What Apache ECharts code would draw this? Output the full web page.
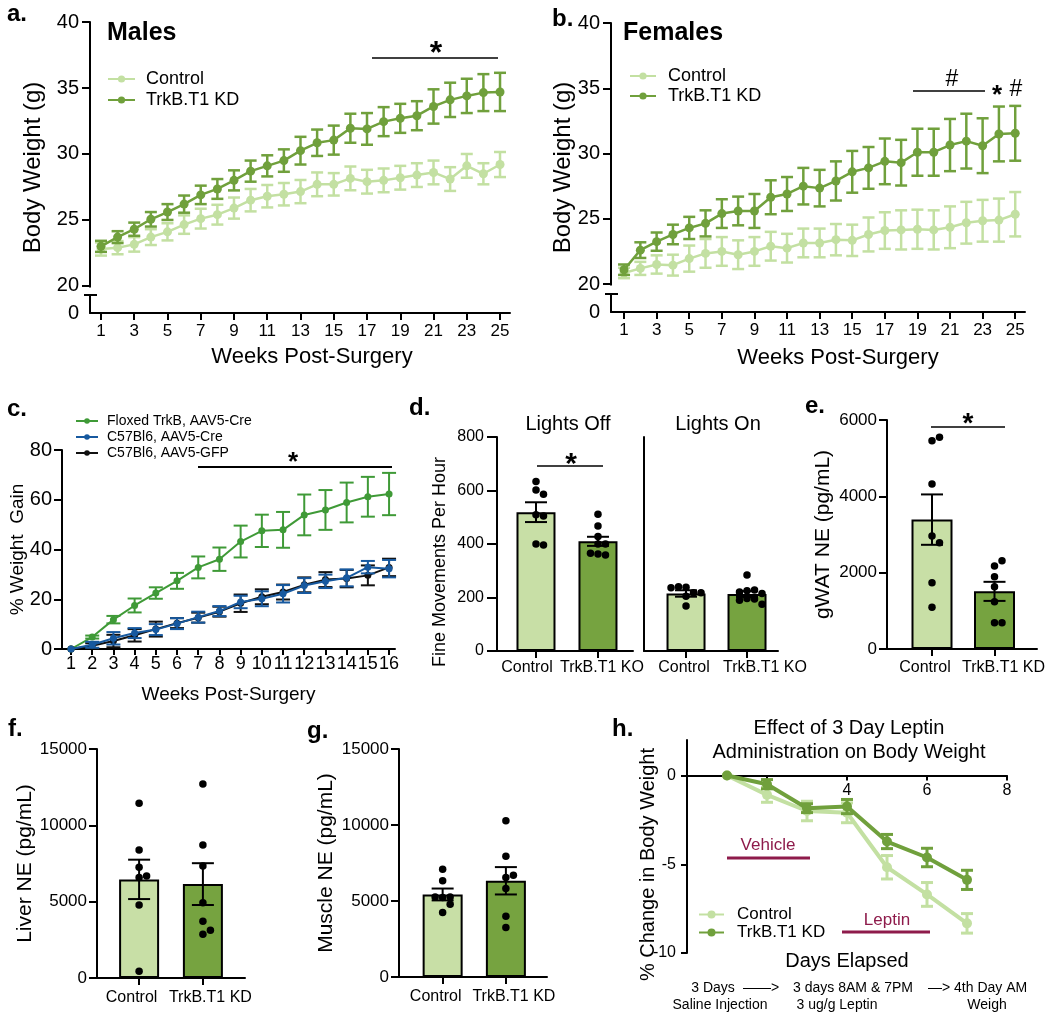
<!DOCTYPE html>
<html><head><meta charset="utf-8">
<script src="https://cdn.jsdelivr.net/npm/echarts@6/dist/echarts.min.js"></script>
<style>html,body{margin:0;padding:0;background:#fff}#c{width:1050px;height:1018px}</style>
</head><body><div id="c"></div>
<script>
// ---------------- DATA ----------------
const weeksAB = [1,2,3,4,5,6,7,8,9,10,11,12,13,14,15,16,17,18,19,20,21,22,23,24,25];
const weekTicksAB = [1,3,5,7,9,11,13,15,17,19,21,23,25];
const malesControl = [22.8,22.9,23.15,23.7,24.1,24.65,25.1,25.4,25.9,26.5,26.8,26.95,27.15,27.7,27.7,28.15,27.9,28.0,28.2,28.4,28.6,28.1,29.1,28.5,29.2];
const malesControlErr = [0.5,0.5,0.55,0.6,0.65,0.7,0.75,0.75,0.8,0.85,0.85,0.85,0.88,0.9,0.85,0.9,0.9,0.9,0.9,0.9,0.9,0.9,0.9,0.8,0.95];
const malesKD = [23.0,23.7,24.3,25.05,25.6,26.2,26.9,27.35,28.0,28.7,29.1,29.5,30.25,30.85,31.05,31.95,31.9,32.45,32.7,32.9,33.6,34.1,34.4,34.65,34.7];
const malesKDErr = [0.42,0.45,0.5,0.55,0.6,0.65,0.7,0.75,0.76,0.8,0.8,0.85,1.05,1.0,1.1,1.1,1.2,1.1,1.1,1.1,1.3,1.3,1.3,1.4,1.45];
const femalesControl = [20.85,21.2,21.5,21.45,21.95,22.35,22.5,22.25,22.5,22.9,22.75,23.15,23.15,23.4,23.35,23.8,24.1,24.15,24.2,24.15,24.35,24.7,24.85,24.9,25.35];
const femalesControlErr = [0.4,0.5,0.7,0.8,1.0,1.1,1.1,1.1,1.1,1.1,1.1,1.1,1.1,1.2,1.2,1.3,1.4,1.5,1.5,1.5,1.6,1.6,1.6,1.65,1.7];
const femalesKD = [21.1,22.6,23.25,23.8,24.3,24.65,25.4,25.6,25.6,26.65,26.9,27.5,27.35,27.9,28.6,28.9,29.4,29.3,30.1,30.1,30.65,30.95,30.6,31.5,31.55];
const femalesKDErr = [0.4,0.6,0.7,0.75,0.85,1.0,1.1,1.1,1.3,1.3,1.3,1.4,1.4,1.5,1.6,1.6,1.75,1.75,1.8,1.8,2.0,2.1,2.1,2.1,2.1];

const weeksC = [1,2,3,4,5,6,7,8,9,10,11,12,13,14,15,16];
const floxedCre = [0,4.8,11.8,17.5,22.5,27.4,32.8,36.1,43.2,47.5,47.9,53.9,55.9,58.9,61.2,62.3];
const floxedCreErr = [0,0.6,1.5,2.8,2.3,3.2,4.4,4.7,6.4,6.5,7.2,8.2,8.0,8.0,8.0,8.5];
const c57Cre = [0,1.7,4.3,6.4,7.8,10.2,12.8,15.25,18.9,20.2,22.2,25.5,27.2,28.6,32.9,32.3];
const c57CreErr = [0,1.2,2.5,2,2.2,2.2,2.2,2,2.5,3,3.5,3,2.7,3.4,2.5,3.5];
const c57Gfp = [0,1.3,3.2,5.5,8.0,10.4,12.6,15.0,18.4,21.0,22.9,25.8,27.9,28.3,29.6,32.8];
const c57GfpErr = [0,1,2.5,2.5,3,2,2,2,3.5,3,3,3,3,3.5,4,3.5];

const groupsKD = ['Control','TrkB.T1 KD'];
const groupsKO = ['Control','TrkB.T1 KO'];
const lightsOffMeans = [519,410];
const lightsOffSem = [37,17];
const lightsOffPoints = [[634,602,586,509,505,400,396],[511,467,428,400,400,363,359,365]];
const lightsOnMeans = [215,213];
const lightsOnSem = [12,11];
const lightsOnPoints = [[238,218,240,218,236,168,205],[284,225,228,221,215,196,194,190,175]];
const gwatMeans = [3390,1510];
const gwatSem = [660,250];
const gwatPoints = [[5459,5546,4323,2961,2786,1738,1092],[2175,2314,1895,1633,1240,690,690]];
const liverMeans = [6460,6150];
const liverSem = [1290,1370];
const liverPoints = [[11452,8387,7248,6591,6679,4774,438],[12700,8715,7335,4927,3723,2868,3131]];
const muscleMeans = [5430,6330];
const muscleSem = [390,900];
const musclePoints = [[7094,6326,5227,5271,5271,4788,4239],[10279,7951,6545,6699,5820,3997,3250]];

const leptinDays = [1,2,3,4,5,6,7];
const leptinControl = [0,-1.09,-2.0,-2.1,-5.17,-6.7,-8.33];
const leptinControlErr = [0,0.42,0.55,0.56,0.66,0.67,0.55];
const leptinKD = [0,-0.49,-1.84,-1.75,-3.72,-4.62,-5.88];
const leptinKDErr = [0,0.26,0.25,0.4,0.4,0.52,0.54];

// ---------------- STYLE ----------------
const FONT = "'Liberation Sans', Arial, Helvetica, sans-serif";
const LIGHT = '#c3e0a2', DARK = '#70a03c';
const BAR_COLORS = ['#c8dfa6', '#76a340'];
const C_GREEN = '#3f9a37', C_BLUE = '#17599f', C_BLACK = '#111111';
const MAROON = '#8e1b4b';

function axis(gi, c, pos) {
  return {
    type: 'value', gridIndex: gi, min: c.min, max: c.max, show: c.show !== false, position: pos,
    axisLine: {show: !c.noLine, onZero: false, lineStyle: {color: '#000', width: 2}},
    axisTick: {show: !!c.ticks, length: c.tickLen || 6, customValues: c.ticks, lineStyle: {color: '#000', width: 2}},
    axisLabel: {show: !!c.labels, customValues: c.labels, formatter: c.fmt || (v => String(v)),
      showMinLabel: true, showMaxLabel: true, hideOverlap: false, padding: c.labelPad || 0,
      fontSize: c.fs, fontFamily: FONT, color: '#000', margin: c.margin},
    splitLine: {show: false},
    name: c.name, nameLocation: 'middle', nameGap: c.nameGap, nameMoveOverlap: false,
    nameTextStyle: {fontSize: c.nameFs, fontFamily: FONT, color: '#000', padding: c.namePad || 0}
  };
}
const xAx = (gi, c) => axis(gi, c, 'bottom');
const yAx = (gi, c) => axis(gi, c, 'left');
const catFmt = names => v => names[Math.round(v)];

function lineS(name, gi, xs, ys, color, lw, sym, z) {
  return {type: 'line', name, xAxisIndex: gi, yAxisIndex: gi, data: xs.map((x, i) => [x, ys[i]]),
    symbol: 'circle', symbolSize: sym, showSymbol: true, lineStyle: {color, width: lw}, itemStyle: {color},
    z, emphasis: {disabled: true}, animation: false};
}
function errS(gi, xs, ys, es, color, lw, cap, z) {
  return {type: 'custom', xAxisIndex: gi, yAxisIndex: gi, z, silent: true,
    data: xs.map((x, i) => [x, ys[i], es[i]]), encode: {x: 0, y: 1},
    renderItem(params, api) {
      const x = api.value(0), y = api.value(1), e = api.value(2);
      if (!e) return null;
      const p1 = api.coord([x, y + e]), p2 = api.coord([x, y - e]), h = cap / 2;
      const st = {stroke: color, lineWidth: lw};
      return {type: 'group', children: [
        {type: 'line', shape: {x1: p1[0], y1: p1[1], x2: p2[0], y2: p2[1]}, style: st},
        {type: 'line', shape: {x1: p1[0] - h, y1: p1[1], x2: p1[0] + h, y2: p1[1]}, style: st},
        {type: 'line', shape: {x1: p2[0] - h, y1: p2[1], x2: p2[0] + h, y2: p2[1]}, style: st}
      ]};
    }};
}
function barS(gi, means, bw) {
  return {type: 'bar', xAxisIndex: gi, yAxisIndex: gi, barWidth: bw, z: 2, silent: true,
    data: means.map((m, i) => ({value: [i, m], itemStyle: {color: BAR_COLORS[i]}})),
    itemStyle: {borderColor: '#000', borderWidth: 2}};
}
function swarm(ys, d) {
  const placed = [], out = [];
  for (let i = 0; i < ys.length; i++) {
    const y = ys[i]; let chosen = 0;
    for (let n = 0; n < 30; n++) {
      const k = n === 0 ? 0 : (n % 2 === 1 ? Math.ceil(n / 2) : -Math.ceil(n / 2));
      const x = k * d;
      if (placed.every(p => (p[0] - x) ** 2 + (p[1] - y) ** 2 >= d * d * 0.95)) { chosen = x; break; }
    }
    placed.push([chosen, y]); out.push(chosen);
  }
  return out;
}
function dotS(gi, groups, size) {
  const data = [];
  groups.forEach((vals, g) => vals.forEach((v, k) => data.push([g, v, k])));
  return {type: 'custom', xAxisIndex: gi, yAxisIndex: gi, z: 6, silent: true, data, encode: {x: 0, y: 1},
    renderItem(params, api) {
      const g = api.value(0), k = api.value(2), vals = groups[g];
      const pys = vals.map(v => api.coord([g, v])[1]);
      const cx = api.coord([g, vals[0]])[0];
      const offs = swarm(pys, size);
      return {type: 'circle', shape: {cx: cx + offs[k], cy: pys[k], r: size / 2}, style: {fill: '#000'}};
    }};
}
function semS(gi, means, sems) { return errS(gi, [0, 1], means, sems, '#000', 2, 22, 5); }

// ---------------- GRAPHIC ANNOTATIONS ----------------
function txt(x, y, text, fs, extra) {
  return {type: 'text', x, y, z: 100, silent: true,
    style: Object.assign({text, fontSize: fs, fontFamily: FONT, fill: '#000', align: 'center', verticalAlign: 'middle'}, extra || {})};
}
function ln(x1, y1, x2, y2, w, color) {
  return {type: 'line', z: 100, silent: true, shape: {x1, y1, x2, y2}, style: {stroke: color || '#000', lineWidth: w || 2}};
}
function star(x, cy, fs) { return txt(x, cy + 0.21 * fs, '*', fs, {fontWeight: 'bold'}); }
const bold = {fontWeight: 'bold', align: 'left'};
const graphics = [
  txt(7, 14.7, 'a.', 24, bold), txt(552, 19.7, 'b.', 24, bold), txt(7, 409.5, 'c.', 24, bold),
  txt(409, 408.5, 'd.', 24, bold), txt(805, 406.5, 'e.', 24, bold), txt(8, 729.5, 'f.', 24, bold),
  txt(307, 731, 'g.', 24, bold), txt(612, 729.5, 'h.', 24, bold),
  // axis breaks
  {type: 'rect', z: 99, silent: true, shape: {x: 86, y: 287.5, width: 8, height: 6.5}, style: {fill: '#fff'}},
  ln(84, 295, 97, 295, 2),
  {type: 'rect', z: 99, silent: true, shape: {x: 607, y: 285.5, width: 8, height: 7.5}, style: {fill: '#fff'}},
  ln(605, 294, 618, 294, 2),
  // significance
  ln(372, 58, 498, 58, 1.5), star(436, 47, 32),
  ln(913, 91, 985, 91, 1.5), txt(952, 80, '#', 23), star(997, 90, 26), txt(1016, 90, '#', 23),
  ln(198, 467, 392, 467, 2), star(293, 457, 26),
  ln(537, 466, 603, 466, 1.5), star(571, 458, 30),
  ln(931, 427, 1005, 427, 1.5), star(968, 418, 28),
  // d headers
  txt(568, 424, 'Lights Off', 20), txt(718, 424, 'Lights On', 20),
  // h annotations
  txt(768, 845, 'Vehicle', 17, {fill: MAROON}), ln(727, 858, 810, 858, 3, MAROON),
  txt(887, 920, 'Leptin', 17, {fill: MAROON}), ln(842, 932, 930, 932, 3, MAROON),
  txt(713, 988, '3 Days', 14), txt(761, 988, '——>', 14), txt(853, 988, '3 days 8AM & 7PM', 14),
  txt(928, 988, '—> 4th Day AM', 14, {align: 'left'}),
  txt(720, 1005, 'Saline Injection', 14), txt(837, 1005, '3 ug/g Leptin', 14), txt(987, 1005, 'Weigh', 14)
];

// ---------------- OPTION ----------------
const gridDefs = [
  {left: 90, top: 22, width: 420, height: 291},
  {left: 611, top: 23, width: 414, height: 289},
  {left: 62, top: 450, width: 333, height: 199},
  {left: 497, top: 437, width: 136, height: 214},
  {left: 644, top: 437, width: 134, height: 214},
  {left: 887, top: 420, width: 150, height: 229},
  {left: 97, top: 749, width: 148, height: 229},
  {left: 399, top: 749, width: 148, height: 228},
  {left: 687, top: 740, width: 320, height: 213},
  // h: x axis drawn at y = 0 (top part of the h plot)
  {left: 687, top: 740, width: 320, height: 35.5}
].map(g => Object.assign(g, {containLabel: false, outerBoundsMode: 'none'}));

// bar panels: [grid, min, max, names, margin, shift of label 0, shift of label 1]
const barPanels = [
  [3, -0.629, 1.565, groupsKO, 9, -9, 4],
  [4, -0.689, 1.508, groupsKO, 9, -2, 18],
  [5, -0.72, 1.68, groupsKD, 11, -7, 9],
  [6, -0.66, 1.66, groupsKD, 12, -7.5, 7.5],
  [7, -0.69, 1.65, groupsKD, 12, -7, 8]
];
const padFor = s => (s < 0 ? [0, -2 * s, 0, 0] : [0, 0, 0, 2 * s]);

const yBreakFmt = v => (v < 20 ? '0' : String(v));
const xAxes = [
  xAx(0, {min: 0.34, max: 25.6, ticks: weekTicksAB, labels: weekTicksAB, fs: 17, margin: 10, tickLen: 7, name: 'Weeks Post-Surgery', nameGap: 33, nameFs: 22, namePad: [0, 0, 0, 24]}),
  xAx(1, {min: 0.2, max: 25.6, ticks: weekTicksAB, labels: weekTicksAB, fs: 17, margin: 10, tickLen: 7, name: 'Weeks Post-Surgery', nameGap: 35, nameFs: 22, namePad: [0, 0, 0, 40]}),
  xAx(2, {min: 0.575, max: 16.28, ticks: weeksC, labels: weeksC, fs: 18, margin: 6, tickLen: 6, name: 'Weeks Post-Surgery', nameGap: 36, nameFs: 19})
];
barPanels.forEach(([gi, mn, mx, names, mg, s0]) => {
  xAxes[gi] = xAx(gi, {min: mn, max: mx, ticks: [0, 1], labels: [0], fmt: catFmt(names), fs: 16, margin: mg, tickLen: 7, labelPad: padFor(s0)});
});
xAxes[8] = xAx(8, {min: 0, max: 8, show: false});
xAxes[9] = xAx(9, {min: 0, max: 8, ticks: [0, 2, 4, 6, 8], labels: [4, 6, 8], fs: 16, margin: 7, tickLen: 5, name: 'Days Elapsed', nameGap: 176, nameFs: 20});
// second label of each bar panel on an overlaid axis without line or ticks
barPanels.forEach(([gi, mn, mx, names, mg, s0, s1]) => {
  xAxes.push(xAx(gi, {min: mn, max: mx, labels: [1], noLine: true, fmt: catFmt(names), fs: 16, margin: mg, labelPad: padFor(s1)}));
});

const yAxes = [
  yAx(0, {min: 17.95, max: 40, ticks: [20, 25, 30, 35, 40], labels: [17.95, 20, 25, 30, 35, 40], fmt: yBreakFmt, fs: 20, margin: 11, tickLen: 8, name: 'Body Weight (g)', nameGap: 45, nameFs: 24}),
  yAx(1, {min: 17.86, max: 40, ticks: [20, 25, 30, 35, 40], labels: [17.86, 20, 25, 30, 35, 40], fmt: yBreakFmt, fs: 20, margin: 11, tickLen: 8, name: 'Body Weight (g)', nameGap: 36, nameFs: 24}),
  yAx(2, {min: 0, max: 80, ticks: [0, 20, 40, 60, 80], labels: [0, 20, 40, 60, 80], fs: 20, margin: 10, tickLen: 8, name: '% Weight  Gain', nameGap: 35, nameFs: 19}),
  yAx(3, {min: 0, max: 800, ticks: [0, 200, 400, 600, 800], labels: [0, 200, 400, 600, 800], fs: 16, margin: 13, tickLen: 10, name: 'Fine Movements Per Hour', nameGap: 48, nameFs: 18, namePad: [0, 36, 0, 0]}),
  yAx(4, {min: 0, max: 800}),
  yAx(5, {min: 0, max: 6000, ticks: [0, 2000, 4000, 6000], labels: [0, 2000, 4000, 6000], fs: 17, margin: 10, tickLen: 8, name: 'gWAT NE (pg/mL)', nameGap: 53, nameFs: 21}),
  yAx(6, {min: 0, max: 15000, ticks: [0, 5000, 10000, 15000], labels: [0, 5000, 10000, 15000], fs: 17, margin: 10, tickLen: 8, name: 'Liver NE (pg/mL)', nameGap: 61, nameFs: 21}),
  yAx(7, {min: 0, max: 15000, ticks: [0, 5000, 10000, 15000], labels: [0, 5000, 10000, 15000], fs: 17, margin: 10, tickLen: 8, name: 'Muscle NE (pg/mL)', nameGap: 62, nameFs: 21}),
  yAx(8, {min: -10, max: 2, ticks: [-10, -5, 0], labels: [-10, -5, 0], fs: 16, margin: 11, tickLen: 6, name: '% Change in Body Weight', nameGap: 29, nameFs: 20, namePad: [0, 36, 0, 0]}),
  yAx(9, {min: 0, max: 2, show: false})
];

const series = [
  // a
  errS(0, weeksAB, malesControl, malesControlErr, LIGHT, 2.5, 12, 3),
  lineS('a|Control', 0, weeksAB, malesControl, LIGHT, 2.5, 9, 4),
  errS(0, weeksAB, malesKD, malesKDErr, DARK, 2.5, 12, 5),
  lineS('a|TrkB.T1 KD', 0, weeksAB, malesKD, DARK, 2.5, 9, 6),
  // b
  errS(1, weeksAB, femalesControl, femalesControlErr, LIGHT, 2.5, 12, 3),
  lineS('b|Control', 1, weeksAB, femalesControl, LIGHT, 2.5, 9, 4),
  errS(1, weeksAB, femalesKD, femalesKDErr, DARK, 2.5, 12, 5),
  lineS('b|TrkB.T1 KD', 1, weeksAB, femalesKD, DARK, 2.5, 9, 6),
  // c
  errS(2, weeksC, floxedCre, floxedCreErr, C_GREEN, 2, 14, 3),
  lineS('c|Floxed TrkB, AAV5-Cre', 2, weeksC, floxedCre, C_GREEN, 2, 7, 4),
  errS(2, weeksC, c57Gfp, c57GfpErr, C_BLACK, 2, 14, 3),
  lineS('c|C57Bl6, AAV5-GFP', 2, weeksC, c57Gfp, C_BLACK, 2, 7, 4),
  errS(2, weeksC, c57Cre, c57CreErr, C_BLUE, 2, 14, 5),
  lineS('c|C57Bl6, AAV5-Cre', 2, weeksC, c57Cre, C_BLUE, 2, 7, 6),
  // d
  barS(3, lightsOffMeans, 39), semS(3, lightsOffMeans, lightsOffSem), dotS(3, lightsOffPoints, 7.5),
  barS(4, lightsOnMeans, 39), semS(4, lightsOnMeans, lightsOnSem), dotS(4, lightsOnPoints, 7.5),
  // e
  barS(5, gwatMeans, 41), semS(5, gwatMeans, gwatSem), dotS(5, gwatPoints, 7.5),
  // f
  barS(6, liverMeans, 40), semS(6, liverMeans, liverSem), dotS(6, liverPoints, 7.5),
  // g
  barS(7, muscleMeans, 40), semS(7, muscleMeans, muscleSem), dotS(7, musclePoints, 7.5),
  // h
  errS(8, leptinDays, leptinControl, leptinControlErr, LIGHT, 3, 12, 3),
  lineS('h|Control', 8, leptinDays, leptinControl, LIGHT, 4, 10, 4),
  errS(8, leptinDays, leptinKD, leptinKDErr, DARK, 3, 12, 5),
  lineS('h|TrkB.T1 KD', 8, leptinDays, leptinKD, DARK, 4, 10, 6)
];

const legendBase = {orient: 'vertical', selectedMode: false, formatter: n => n.slice(2), padding: 0};
const legends = [
  Object.assign({}, legendBase, {data: ['a|Control', 'a|TrkB.T1 KD'], left: 107, top: 70, itemWidth: 27, itemHeight: 9, itemGap: 3, textStyle: {fontSize: 18, fontFamily: FONT, color: '#000', padding: [0, 0, 0, 6]}}),
  Object.assign({}, legendBase, {data: ['b|Control', 'b|TrkB.T1 KD'], left: 629, top: 67, itemWidth: 26, itemHeight: 9, itemGap: 2, textStyle: {fontSize: 18, fontFamily: FONT, color: '#000', padding: [0, 0, 0, 7]}}),
  Object.assign({}, legendBase, {data: ['c|Floxed TrkB, AAV5-Cre', 'c|C57Bl6, AAV5-Cre', 'c|C57Bl6, AAV5-GFP'], left: 75, top: 414, itemWidth: 22, itemHeight: 7, itemGap: 2, textStyle: {fontSize: 14, fontFamily: FONT, color: '#000', padding: [0, 0, 0, 4]}}),
  Object.assign({}, legendBase, {data: ['h|Control', 'h|TrkB.T1 KD'], left: 698, top: 906, itemWidth: 25, itemHeight: 10, itemGap: 1, textStyle: {fontSize: 17, fontFamily: FONT, color: '#000', padding: [0, 0, 0, 8]}})
];

const titles = [
  {text: 'Males', left: 107, top: 21, padding: 0, textStyle: {fontSize: 25, fontWeight: 'bold', fontFamily: FONT, color: '#000'}},
  {text: 'Females', left: 623, top: 21, padding: 0, textStyle: {fontSize: 25, fontWeight: 'bold', fontFamily: FONT, color: '#000'}},
  {text: 'Effect of 3 Day Leptin\nAdministration on Body Weight', left: 849, textAlign: 'center', top: 716, padding: 0,
   textStyle: {fontSize: 20, lineHeight: 24, fontWeight: 'normal', fontFamily: FONT, color: '#000'}}
];

const chart = echarts.init(document.getElementById('c'), null, {renderer: 'canvas'});
chart.setOption({
  backgroundColor: '#fff', animation: false,
  title: titles, legend: legends, grid: gridDefs, xAxis: xAxes, yAxis: yAxes, series, graphic: graphics
});
</script></body></html>
